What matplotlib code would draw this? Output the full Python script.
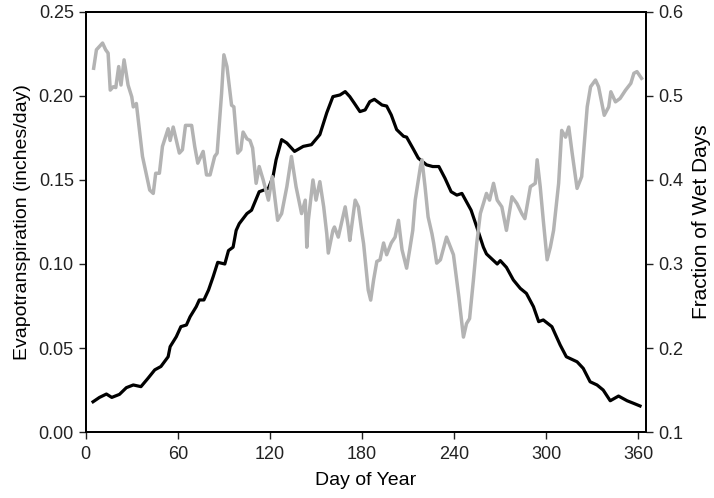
import numpy as np
import matplotlib
matplotlib.use("Agg")
import matplotlib.pyplot as plt

plt.rcParams['font.family'] = ['Liberation Sans', 'DejaVu Sans']

# evapotranspiration (inches/day)
et_day = [4.8, 9, 13.5, 17, 22, 26.5, 31, 36, 40.6, 45, 49, 53.7, 55, 59, 62, 65.6, 68, 72, 74, 77,
          80, 83, 86, 90.6, 93, 96, 98, 100, 105, 108, 113, 119, 122, 124, 127.6, 131, 136, 141.7,
          147, 152.5, 157, 161, 165.6, 169, 172, 175, 178.6, 182, 185, 188, 193, 196, 199, 202.5,
          207, 209, 213, 216.6, 222, 226, 230, 234, 238, 241.7, 245, 248, 251, 254.7, 259, 261,
          268, 270, 274, 278.5, 283, 287, 291.6, 295, 298, 303.6, 309, 313, 320, 324, 328.5, 333,
          337, 341.6, 347, 352.6, 357, 361]
et_val = [0.018, 0.0206, 0.0226, 0.0206, 0.0224, 0.0264, 0.028, 0.027, 0.032, 0.037, 0.039, 0.0448,
          0.0508, 0.0567, 0.0627, 0.0637, 0.0686, 0.0746, 0.0786, 0.0786, 0.0845, 0.0924, 0.101, 0.100,
          0.108, 0.110, 0.120, 0.124, 0.130, 0.132, 0.143, 0.145, 0.152, 0.162, 0.174, 0.172, 0.167,
          0.170, 0.171, 0.177, 0.190, 0.1996, 0.2006, 0.2026, 0.1996, 0.1956, 0.1907, 0.1917, 0.1966,
          0.198, 0.1946, 0.194, 0.1887, 0.180, 0.176, 0.1755, 0.169, 0.163, 0.159, 0.158, 0.158, 0.151,
          0.143, 0.141, 0.142, 0.137, 0.132, 0.122, 0.110, 0.106, 0.100, 0.102, 0.098, 0.0905, 0.0855,
          0.0825, 0.0746, 0.0657, 0.0667, 0.0627, 0.0518, 0.0448, 0.0418, 0.0379, 0.0299, 0.028, 0.025,
          0.0186, 0.0214, 0.0186, 0.017, 0.0155]

# fraction of wet days
wet_day = [5.2, 7, 9, 11, 13, 14.6, 16, 18, 19.6, 21.5, 23, 25, 27.6, 30, 31, 33, 37, 41.7, 44, 45.6,
           48, 50, 53.7, 55, 57, 61, 63, 65, 69, 71, 73, 76.5, 78.7, 81, 84, 85.6, 88.5, 90, 92, 95,
           96.5, 99, 101, 102.5, 105, 107, 108.7, 111, 113, 115.6, 119, 121.5, 125, 127.6, 131, 134,
           137, 140.6, 143, 144, 145, 148, 150, 152.5, 155, 157, 158, 161, 162, 164.5, 169, 171, 172,
           175.5, 177.6, 180, 181, 184, 185.6, 187.5, 189.6, 191.7, 194, 196, 199, 201.5, 203.7, 206,
           209, 211, 213, 214.6, 218, 219, 221, 223, 225.5, 226.6, 228.6, 231, 235, 239.5, 243, 246,
           248, 250, 252.5, 254.7, 257, 261, 263, 265.6, 268, 271, 274, 277.6, 280.8, 284, 286, 289.6,
           292.8, 294, 296, 298, 300.5, 302.6, 304.7, 308, 310, 312.5, 314.6, 316.8, 320, 323, 326.6,
           328.8, 332, 334, 337.7, 340.6, 342, 345, 348, 351.6, 355, 357, 359, 362]
wet_val = [0.533, 0.555, 0.559, 0.563, 0.555, 0.551, 0.507, 0.511, 0.510, 0.535, 0.513, 0.543, 0.513,
           0.499, 0.487, 0.491, 0.428, 0.388, 0.384, 0.408, 0.408, 0.440, 0.461, 0.447, 0.463, 0.432,
           0.436, 0.465, 0.465, 0.440, 0.420, 0.434, 0.406, 0.406, 0.428, 0.432, 0.503, 0.549, 0.535,
           0.489, 0.487, 0.432, 0.436, 0.457, 0.449, 0.447, 0.438, 0.396, 0.416, 0.400, 0.376, 0.404,
           0.352, 0.360, 0.392, 0.428, 0.392, 0.360, 0.376, 0.320, 0.352, 0.400, 0.376, 0.398, 0.368,
           0.336, 0.313, 0.340, 0.344, 0.332, 0.368, 0.344, 0.328, 0.376, 0.368, 0.336, 0.324, 0.269,
           0.257, 0.281, 0.303, 0.305, 0.325, 0.311, 0.325, 0.332, 0.352, 0.317, 0.295, 0.317, 0.340,
           0.376, 0.416, 0.424, 0.392, 0.356, 0.336, 0.325, 0.301, 0.305, 0.332, 0.311, 0.261, 0.213,
           0.229, 0.235, 0.281, 0.325, 0.360, 0.384, 0.376, 0.396, 0.376, 0.368, 0.340, 0.380, 0.372,
           0.360, 0.354, 0.392, 0.396, 0.424, 0.392, 0.352, 0.305, 0.320, 0.340, 0.396, 0.459, 0.451,
           0.463, 0.432, 0.390, 0.404, 0.487, 0.511, 0.519, 0.511, 0.477, 0.487, 0.505, 0.493, 0.497,
           0.507, 0.515, 0.527, 0.529, 0.521]

x_ticks = [0, 60, 120, 180, 240, 300, 360]
et_ticks = [0.0, 0.05, 0.10, 0.15, 0.20, 0.25]
wet_ticks = [0.1, 0.2, 0.3, 0.4, 0.5, 0.6]

fig = plt.figure(figsize=(7.14, 4.98), dpi=100)
ax = fig.add_axes([0.120, 0.1325, 0.785, 0.8435])
ax2 = ax.twinx()

ax.plot(et_day, et_val, color='black', lw=2.3, solid_joinstyle='round')
ax2.plot(wet_day, wet_val, color='#b3b3b3', lw=2.5, solid_joinstyle='round')

ax.set_xlim(0, 365)
ax.set_ylim(0, 0.25)
ax2.set_ylim(0.1, 0.6)
ax.set_xticks(x_ticks)
ax.set_yticks(et_ticks)
ax.set_yticklabels(['%.2f' % v for v in et_ticks])
ax2.set_yticks(wet_ticks)
ax2.set_yticklabels(['%.1f' % v for v in wet_ticks])

for a in (ax, ax2):
    a.tick_params(direction='out', length=5, width=1, labelsize=13, colors='#222222')
    for s in a.spines.values():
        s.set_linewidth(1.3)
ax.tick_params(axis='x', pad=5)

ax.set_xlabel('Day of Year', fontsize=14)
ax.set_ylabel('Evapotranspiration (inches/day)', fontsize=14)
ax2.set_ylabel('Fraction of Wet Days', fontsize=15)
ax.xaxis.set_label_coords(0.5, -0.095)
ax.yaxis.set_label_coords(-0.098, 0.5)
ax2.yaxis.set_label_coords(1.082, 0.5)

fig.savefig('out.png', dpi=100)
